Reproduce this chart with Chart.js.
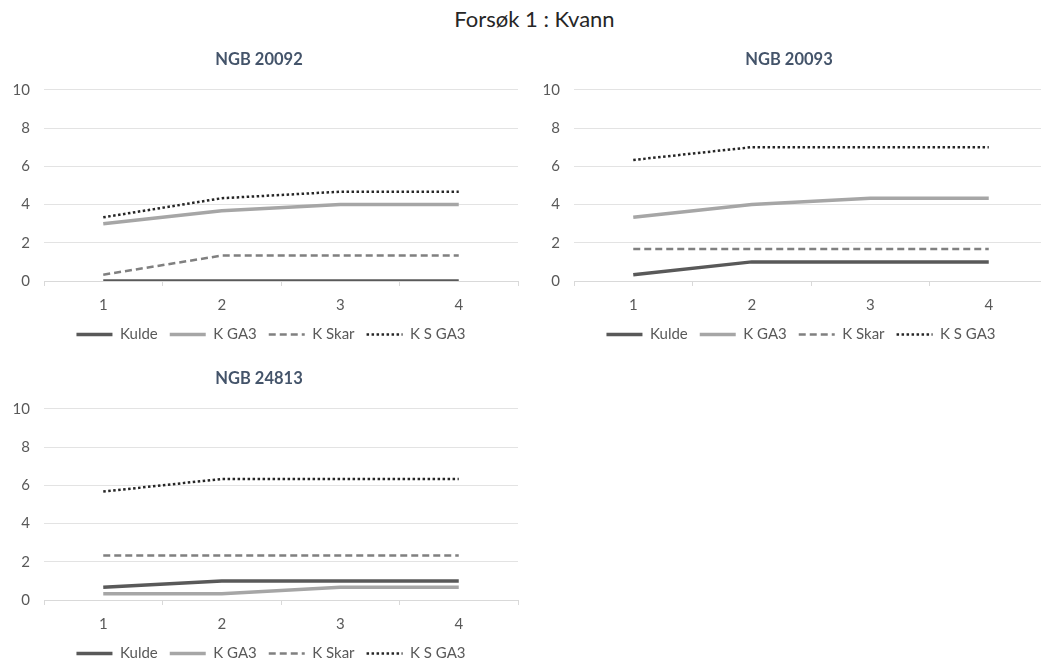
<!DOCTYPE html>
<html>
<head>
<meta charset="utf-8">
<script src="https://cdn.jsdelivr.net/npm/chart.js@4"></script>
<style>
  html, body { margin:0; padding:0; background:#fff; }
  body { width:1041px; height:662px; position:relative; overflow:hidden; font-family: Lato, "Open Sans", sans-serif; }
  #mainTitle { position:absolute; left:14px; top:4px; width:1041px; text-align:center; font-size:22px; line-height:30px; color:#262626; }
  .box { position:absolute; }
</style>
</head>
<body>
<div id="mainTitle">Forsøk 1 : Kvann</div>
<div class="box" style="left:0px; top:45px; width:520px; height:317px;"><canvas id="c1"></canvas></div>
<div class="box" style="left:530px; top:45px; width:520px; height:317px;"><canvas id="c2"></canvas></div>
<div class="box" style="left:0px; top:364px; width:520px; height:317px;"><canvas id="c3"></canvas></div>
<script>
const categories = ['1', '2', '3', '4'];
const seriesNames = ['Kulde', 'K GA3', 'K Skar', 'K S GA3'];
const yTicks = [0, 2, 4, 6, 8, 10];

const titles = ['NGB 20092', 'NGB 20093', 'NGB 24813'];

// NGB 20092
const ngb20092_kulde = [0, 0, 0, 0];
const ngb20092_kga3 = [3, 3.67, 4, 4];
const ngb20092_kskar = [0.33, 1.33, 1.33, 1.33];
const ngb20092_ksga3 = [3.33, 4.33, 4.67, 4.67];

// NGB 20093
const ngb20093_kulde = [0.33, 1, 1, 1];
const ngb20093_kga3 = [3.33, 4, 4.33, 4.33];
const ngb20093_kskar = [1.67, 1.67, 1.67, 1.67];
const ngb20093_ksga3 = [6.33, 7, 7, 7];

// NGB 24813
const ngb24813_kulde = [0.67, 1, 1, 1];
const ngb24813_kga3 = [0.33, 0.33, 0.67, 0.67];
const ngb24813_kskar = [2.33, 2.33, 2.33, 2.33];
const ngb24813_ksga3 = [5.67, 6.33, 6.33, 6.33];

const styles = [
  { borderColor: '#595959', borderWidth: 3.5, borderDash: [] },
  { borderColor: '#A6A6A6', borderWidth: 3.5, borderDash: [] },
  { borderColor: '#808080', borderWidth: 2.5, borderDash: [7, 4] },
  { borderColor: '#262626', borderWidth: 2.5, borderDash: [2.5, 2.5] }
];

const FONT = 'Lato, "Open Sans", sans-serif';

const legendShift = {
  id: 'legendShift',
  afterLayout(chart) {
    const o = chart.options.plugins.legendShift;
    chart.legend.left += o.dx;
    chart.legend.right += o.dx;
    chart.legend.top += o.dy;
    chart.legend.bottom += o.dy;
  }
};

function makeChart(id, title, seriesList) {
  const datasets = seriesList.map((vals, i) => ({
    label: seriesNames[i],
    data: vals,
    borderColor: styles[i].borderColor,
    backgroundColor: styles[i].borderColor,
    borderWidth: styles[i].borderWidth,
    borderDash: styles[i].borderDash,
    pointRadius: 0,
    tension: 0,
    fill: false
  }));
  return new Chart(document.getElementById(id), {
    type: 'line',
    data: { labels: categories, datasets },
    plugins: [legendShift],
    options: {
      responsive: true,
      maintainAspectRatio: false,
      animation: false,
      layout: { padding: { left: 0, right: 2, top: 0, bottom: 1 } },
      plugins: {
        legendShift: { dx: 12, dy: -9 },
        tooltip: { enabled: false },
        title: {
          display: true,
          text: title,
          color: '#44546A',
          font: { family: FONT, size: 16.5, weight: 'bold' },
          padding: { top: 5, bottom: 20 }
        },
        legend: {
          position: 'bottom',
          labels: {
            usePointStyle: true,
            pointStyle: 'line',
            pointStyleWidth: 36,
            boxHeight: 10,
            color: '#595959',
            font: { family: FONT, size: 15 },
            padding: 12,
            generateLabels: (chart) => chart.data.datasets.map((ds, i) => ({
              text: ds.label,
              fillStyle: 'rgba(0,0,0,0)',
              strokeStyle: ds.borderColor,
              lineWidth: ds.borderWidth,
              lineDash: ds.borderDash,
              lineCap: 'butt',
              pointStyle: 'line',
              fontColor: '#595959',
              hidden: false,
              datasetIndex: i
            }))
          }
        }
      },
      scales: {
        x: {
          offset: true,
          grid: { display: true, drawOnChartArea: false, offset: true, color: '#D9D9D9', tickLength: 5 },
          border: { display: true, color: '#D9D9D9' },
          ticks: { color: '#595959', font: { family: FONT, size: 15 }, padding: 10 }
        },
        y: {
          min: 0,
          max: 10,
          afterBuildTicks: (scale) => { scale.ticks = yTicks.map(v => ({ value: v })); },
          afterFit: (scale) => { scale.width = 44; },
          grid: { color: '#E3E3E3', drawTicks: false },
          border: { display: false },
          ticks: { color: '#595959', font: { family: FONT, size: 15 }, padding: 14 }
        }
      }
    }
  });
}

makeChart('c1', titles[0], [ngb20092_kulde, ngb20092_kga3, ngb20092_kskar, ngb20092_ksga3]);
makeChart('c2', titles[1], [ngb20093_kulde, ngb20093_kga3, ngb20093_kskar, ngb20093_ksga3]);
makeChart('c3', titles[2], [ngb24813_kulde, ngb24813_kga3, ngb24813_kskar, ngb24813_ksga3]);
</script>
</body>
</html>
